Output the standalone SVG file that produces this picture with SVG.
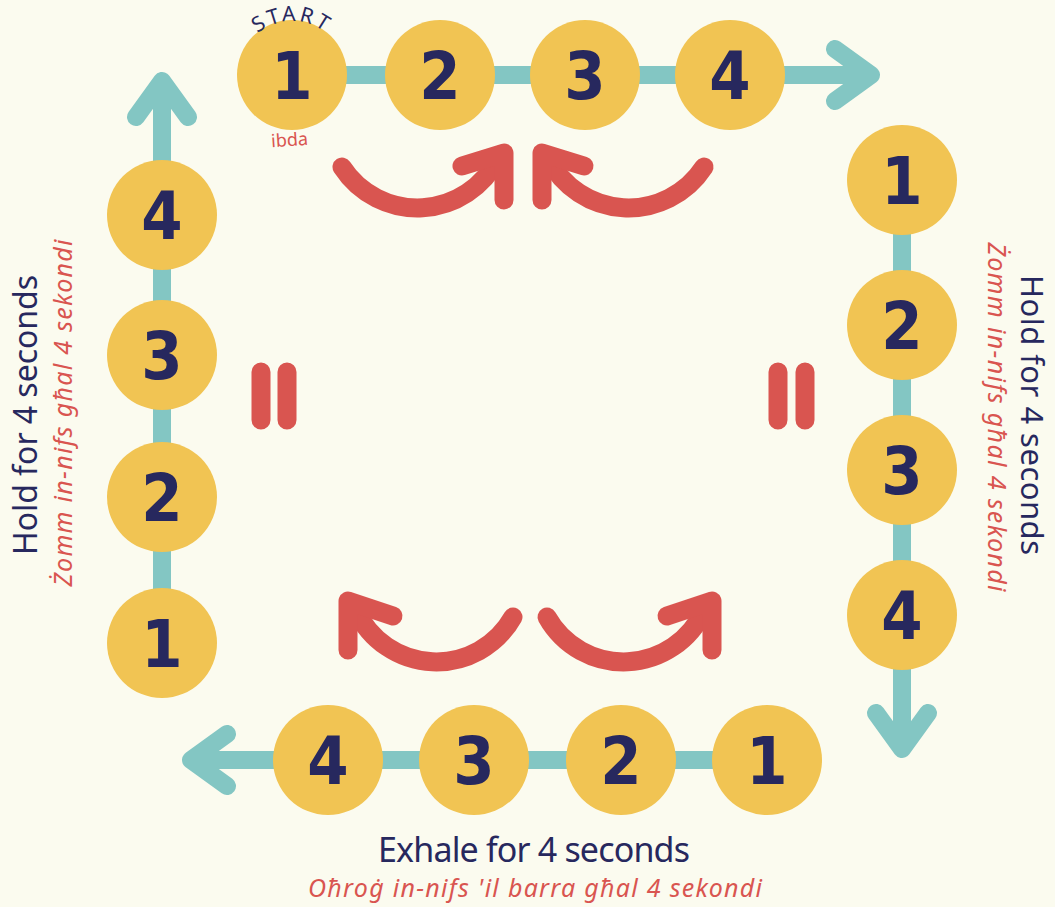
<svg xmlns="http://www.w3.org/2000/svg" xmlns:xlink="http://www.w3.org/1999/xlink" width="1055" height="907" viewBox="0 0 1055 907">
<style>
.bg{fill:#fbfbef}
.dot{fill:#f1c453}
.num{font-family:"DejaVu Sans Condensed","DejaVu Sans",sans-serif;font-weight:bold;font-size:66px;fill:#27285e;text-anchor:middle}
.teal{fill:none;stroke:#83c6c3;stroke-width:18;stroke-linecap:round;stroke-linejoin:round}
.red{fill:none;stroke:#d95550;stroke-width:19;stroke-linecap:round;stroke-linejoin:round}
.lbl{font-family:"Noto Sans","Open Sans",sans-serif;fill:#27285e;text-anchor:middle}
.sub{font-family:"Noto Sans","Open Sans",sans-serif;font-style:italic;fill:#d95550;text-anchor:middle}
.ibda{font-family:"Noto Sans","Open Sans",sans-serif;fill:#d95550;text-anchor:middle;font-size:18px}
</style>
<defs>
<path id="startArc" d="M 238 75 A 54 54 0 0 1 346 75"/>
</defs>
<rect class="bg" x="0" y="0" width="1055" height="907"/>

<g id="connectors">
<path class="teal" d="M292 75 H871 M835 49 L871 75 L835 101"/>
<path class="teal" d="M902 180 V749 M876 713 L902 749 L928 713"/>
<path class="teal" d="M767 760 H191 M227 734 L191 760 L227 786"/>
<path class="teal" d="M162 643 V81 M136 117 L162 81 L188 117"/>
</g>

<g id="cycle-arrows">
<path class="red" d="M342 167 A90 90 0 0 0 498 158"/>
<polyline class="red" points="462,166 504,153 504,200"/>
<path class="red" d="M704 167 A90 90 0 0 1 548 158"/>
<polyline class="red" points="584,166 542,153 542,200"/>
<path class="red" d="M513 617 A88 88 0 0 1 356 610"/>
<polyline class="red" points="393,616 348,601 348,650"/>
<path class="red" d="M547 617 A88 88 0 0 0 704 610"/>
<polyline class="red" points="667,616 712,601 712,650"/>
</g>

<g id="equals-left">
<path class="red" d="M261 372 V420 M287 372 V420"/>
</g>
<g id="equals-right">
<path class="red" d="M778 372 V420 M805 372 V420"/>
</g>

<g id="top-1"><circle class="dot" cx="292" cy="75" r="55"/><text class="num" x="292" y="99">1</text></g>
<g id="top-2"><circle class="dot" cx="440" cy="75" r="55"/><text class="num" x="440" y="99">2</text></g>
<g id="top-3"><circle class="dot" cx="585" cy="75" r="55"/><text class="num" x="585" y="99">3</text></g>
<g id="top-4"><circle class="dot" cx="730" cy="75" r="55"/><text class="num" x="730" y="99">4</text></g>

<g id="right-1"><circle class="dot" cx="902" cy="180" r="55"/><text class="num" x="902" y="204">1</text></g>
<g id="right-2"><circle class="dot" cx="902" cy="325" r="55"/><text class="num" x="902" y="349">2</text></g>
<g id="right-3"><circle class="dot" cx="902" cy="470" r="55"/><text class="num" x="902" y="494">3</text></g>
<g id="right-4"><circle class="dot" cx="902" cy="615" r="55"/><text class="num" x="902" y="639">4</text></g>

<g id="bottom-1"><circle class="dot" cx="767" cy="760" r="55"/><text class="num" x="767" y="784">1</text></g>
<g id="bottom-2"><circle class="dot" cx="621" cy="760" r="55"/><text class="num" x="621" y="784">2</text></g>
<g id="bottom-3"><circle class="dot" cx="474" cy="760" r="55"/><text class="num" x="474" y="784">3</text></g>
<g id="bottom-4"><circle class="dot" cx="328" cy="760" r="55"/><text class="num" x="328" y="784">4</text></g>

<g id="left-1"><circle class="dot" cx="162" cy="643" r="55"/><text class="num" x="162" y="667">1</text></g>
<g id="left-2"><circle class="dot" cx="162" cy="497" r="55"/><text class="num" x="162" y="521">2</text></g>
<g id="left-3"><circle class="dot" cx="162" cy="355" r="55"/><text class="num" x="162" y="379">3</text></g>
<g id="left-4"><circle class="dot" cx="162" cy="215" r="55"/><text class="num" x="162" y="239">4</text></g>

<g id="start-label">
<text class="lbl" font-size="21" letter-spacing="3"><textPath xlink:href="#startArc" href="#startArc" startOffset="50%">START</textPath></text>
<text class="ibda" x="290" y="146" transform="rotate(-4 290 146)">ibda</text>
</g>

<g id="label-left">
<text class="lbl" font-size="32" transform="translate(37,415) rotate(-90)" textLength="280">Hold for 4 seconds</text>
<text class="sub" font-size="25" transform="translate(72,413) rotate(-90)" textLength="347">Żomm in-nifs għal 4 sekondi</text>
</g>
<g id="label-right">
<text class="lbl" font-size="31" transform="translate(1021,415) rotate(90)" textLength="280">Hold for 4 seconds</text>
<text class="sub" font-size="25" transform="translate(988,417) rotate(90)" textLength="349">Żomm in-nifs għal 4 sekondi</text>
</g>
<g id="label-bottom">
<text class="lbl" font-size="34" x="534" y="862" textLength="312">Exhale for 4 seconds</text>
<text class="sub" font-size="25" x="535" y="897" textLength="454">Oħroġ in-nifs 'il barra għal 4 sekondi</text>
</g>
</svg>
